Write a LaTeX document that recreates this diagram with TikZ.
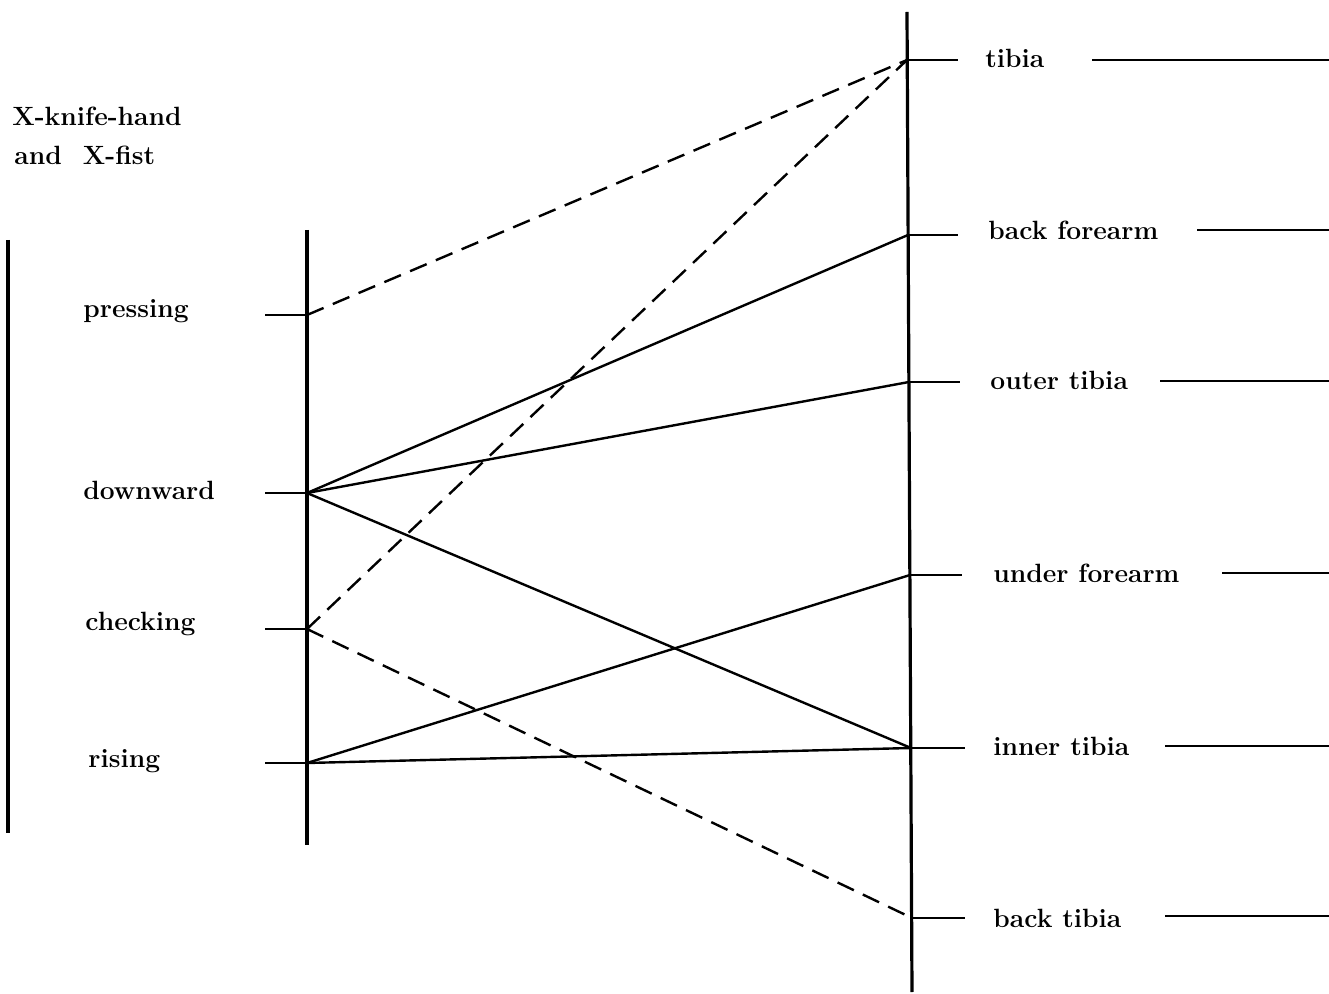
\documentclass[tikz,border=0pt]{standalone}
\begin{document}
\begin{tikzpicture}[x=0.5pt,y=-0.5pt,
  lbl/.style={anchor=west,inner sep=0pt,font=\fontsize{13.2}{15}\selectfont\bfseries},
  axis/.style={line width=1.6pt},
  tick/.style={line width=1.1pt},
  link/.style={line width=1.2pt},
  dlink/.style={line width=1.2pt,dash pattern=on 9pt off 5pt}]
\useasboundingbox (0,0) rectangle (1329,994);
% title
\node[lbl] (t1) at (12,116) {X-knife-hand};
\node[lbl] (t2) at (14,155) {and\hspace{0.8em}X-fist};
% left bracket line
\draw[axis] (8,240) -- (8,833);
% middle axis
\coordinate (mtop) at (307,230);
\coordinate (mbot) at (307,845);
\draw[axis] (mtop) -- (mbot);
% right axis
\coordinate (rtop) at (907,12);
\coordinate (rbot) at (912,992);
\draw[axis] (rtop) -- (rbot);
% left points
\coordinate (pr) at (307,315);
\coordinate (dw) at (307,493);
\coordinate (ch) at (307,629);
\coordinate (ri) at (307,763);
\coordinate (prt) at (265,315);
\coordinate (dwt) at (265,493);
\coordinate (cht) at (265,629);
\coordinate (rit) at (265,763);
\draw[tick] (prt) -- (pr);
\draw[tick] (dwt) -- (dw);
\draw[tick] (cht) -- (ch);
\draw[tick] (rit) -- (ri);
\node[lbl] (lpr) at (83,311) {pressing};
\node[lbl] (ldw) at (83,490) {downward};
\node[lbl] (lch) at (85,624) {checking};
\node[lbl] (lri) at (88,761) {rising};
% right points
\coordinate (ti) at (907,60);
\coordinate (bf) at (908,235);
\coordinate (ot) at (909,382);
\coordinate (uf) at (910,575);
\coordinate (it) at (911,748);
\coordinate (bt) at (912,918);
\coordinate (tit) at (958,60);
\coordinate (bft) at (958,235);
\coordinate (ott) at (960,382);
\coordinate (uft) at (962,575);
\coordinate (itt) at (965,748);
\coordinate (btt) at (965,918);
\draw[tick] (ti) -- (tit);
\draw[tick] (bf) -- (bft);
\draw[tick] (ot) -- (ott);
\draw[tick] (uf) -- (uft);
\draw[tick] (it) -- (itt);
\draw[tick] (bt) -- (btt);
\node[lbl] (lti) at (985,58) {tibia};
\node[lbl] (lbf) at (988,230) {back forearm};
\node[lbl] (lot) at (990,380) {outer tibia};
\node[lbl] (luf) at (993,573) {under forearm};
\node[lbl] (lit) at (993,746) {inner tibia};
\node[lbl] (lbt) at (993,918) {back tibia};
% right outer lines
\coordinate (e1) at (1329,60);
\coordinate (e2) at (1329,230);
\coordinate (e3) at (1329,381);
\coordinate (e4) at (1329,573);
\coordinate (e5) at (1329,746);
\coordinate (e6) at (1329,916);
\draw[tick] (1092,60) -- (e1);
\draw[tick] (1197,230) -- (e2);
\draw[tick] (1160,381) -- (e3);
\draw[tick] (1222,573) -- (e4);
\draw[tick] (1165,746) -- (e5);
\draw[tick] (1165,916) -- (e6);
% connectors
\draw[dlink] (pr) -- (ti);
\draw[dlink] (ch) -- (ti);
\draw[dlink] (ch) -- (bt);
\draw[link] (dw) -- (bf);
\draw[link] (dw) -- (ot);
\draw[link] (dw) -- (it);
\draw[link] (ri) -- (uf);
\draw[link] (ri) -- (it);
\end{tikzpicture}
\end{document}
